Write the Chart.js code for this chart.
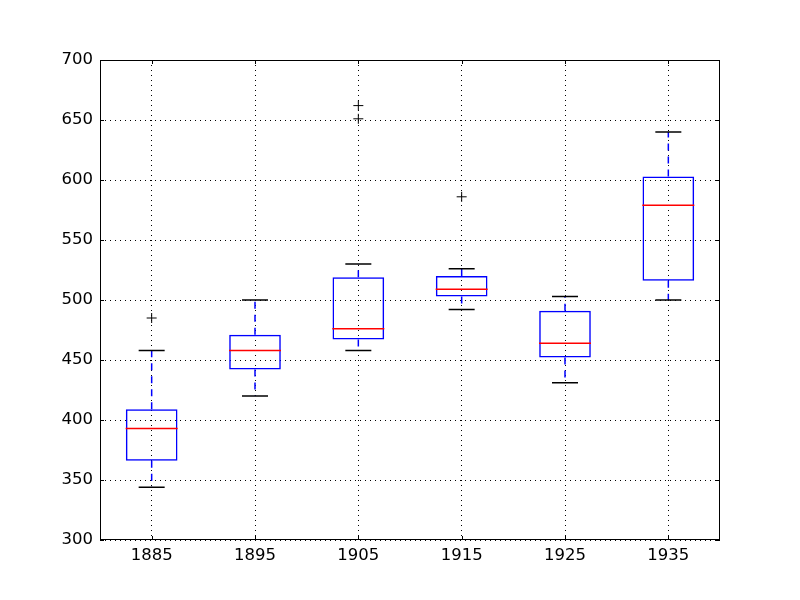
<!DOCTYPE html>
<html>
<head>
<meta charset="utf-8">
<script src="https://cdn.jsdelivr.net/npm/chart.js@4.4.1/dist/chart.umd.min.js"></script>
<style>
  html, body { margin: 0; padding: 0; background: #fff; }
  #c { display: block; }
</style>
</head>
<body>
<canvas id="c" width="800" height="600"></canvas>
<script>
// data
const years = ['1885', '1895', '1905', '1915', '1925', '1935']
const whiskerLow = [344, 420, 458, 492, 431, 500]
const q1 = [366, 442, 467, 503, 452, 516]
const medians = [393, 458, 476, 509, 464, 579]
const q3 = [409, 471, 519, 520, 491, 603]
const whiskerHigh = [458, 500, 530, 526, 503, 640]
const outliers = [[485], [], [651, 662], [586], [], []]
const yTicks = [300, 350, 400, 450, 500, 550, 600, 650, 700]

// build datasets
const boxes = years.map((y, i) => [q1[i], q3[i]])

const whiskerPts = []
years.forEach((y, i) => {
  whiskerPts.push({ x: y, y: q1[i] }, { x: y, y: whiskerLow[i] }, { x: y, y: null })
  whiskerPts.push({ x: y, y: q3[i] }, { x: y, y: whiskerHigh[i] }, { x: y, y: null })
})

const capPts = []
years.forEach((y, i) => {
  capPts.push({ x: y, y: whiskerLow[i] }, { x: y, y: whiskerHigh[i] })
})

const medianPts = years.map((y, i) => ({ x: y, y: medians[i] }))

const outlierPts = []
years.forEach((y, i) => {
  outliers[i].forEach(v => outlierPts.push({ x: y, y: v }))
})

// frame on all four sides, with inward ticks like matplotlib classic
const frame = {
  id: 'frame',
  afterDatasetsDraw(chart) {
    const { ctx, chartArea: a, scales } = chart
    const len = 4
    ctx.save()
    ctx.strokeStyle = '#000'
    ctx.lineWidth = 1
    ctx.beginPath()
    scales.x.ticks.forEach((t, i) => {
      const px = Math.round(scales.x.getPixelForTick(i)) + 0.5
      ctx.moveTo(px, a.bottom); ctx.lineTo(px, a.bottom - len)
      ctx.moveTo(px, a.top); ctx.lineTo(px, a.top + len)
    })
    scales.y.ticks.forEach(t => {
      const py = Math.round(scales.y.getPixelForValue(t.value)) + 0.5
      ctx.moveTo(a.left, py); ctx.lineTo(a.left + len, py)
      ctx.moveTo(a.right, py); ctx.lineTo(a.right - len, py)
    })
    ctx.stroke()
    ctx.strokeRect(a.left + 0.5, a.top + 0.5, a.right - a.left - 1, a.bottom - a.top - 1)
    ctx.restore()
  }
}

Chart.defaults.font.family = 'DejaVu Sans'
Chart.defaults.font.size = 16.5
Chart.defaults.color = '#000'

new Chart(document.getElementById('c'), {
  type: 'bar',
  data: {
    labels: years,
    datasets: [
      {
        type: 'line',
        data: whiskerPts,
        borderColor: '#0000ff',
        borderWidth: 1.5,
        borderDash: [7, 6],
        pointRadius: 0,
        spanGaps: false,
        order: 4
      },
      {
        type: 'bar',
        data: boxes,
        backgroundColor: 'rgba(255,255,255,0)',
        borderColor: '#0000ff',
        borderWidth: 1.5,
        borderSkipped: false,
        barPercentage: 0.5,
        categoryPercentage: 1,
        order: 3
      },
      {
        type: 'line',
        data: capPts,
        showLine: false,
        pointStyle: 'line',
        pointRadius: 13,
        pointBorderColor: '#000',
        pointBorderWidth: 1.5,
        order: 2
      },
      {
        type: 'line',
        data: medianPts,
        showLine: false,
        pointStyle: 'line',
        pointRadius: 26,
        pointBorderColor: '#ff0000',
        pointBorderWidth: 1.5,
        order: 1
      },
      {
        type: 'line',
        data: outlierPts,
        showLine: false,
        pointStyle: 'cross',
        pointRadius: 5,
        pointBorderColor: '#000',
        pointBorderWidth: 1,
        order: 0
      }
    ]
  },
  options: {
    responsive: false,
    animation: false,
    layout: { padding: { left: 0, top: 60, right: 80, bottom: 0 } },
    plugins: { legend: { display: false }, tooltip: { enabled: false } },
    elements: { point: { hoverRadius: 0 } },
    scales: {
      x: {
        offset: true,
        grid: { color: '#000', lineWidth: 1, drawTicks: false, offset: false },
        border: { display: false, dash: [1, 4] },
        ticks: { padding: 6, maxRotation: 0 },
        afterFit: s => { s.height = 60 }
      },
      y: {
        min: 300,
        max: 700,
        afterBuildTicks: s => { s.ticks = yTicks.map(v => ({ value: v })) },
        grid: { color: '#000', lineWidth: 1, drawTicks: false },
        border: { display: false, dash: [1, 4] },
        ticks: { padding: 7 },
        afterFit: s => { s.width = 100 }
      }
    }
  },
  plugins: [frame]
})
</script>
</body>
</html>
